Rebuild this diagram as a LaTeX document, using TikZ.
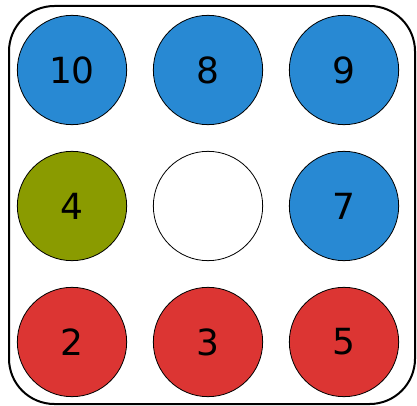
\documentclass[tikz,border=0pt]{standalone}
\usepackage{fontspec}
\setmainfont{DejaVu Sans}
\usepackage{xcolor}
\definecolor{tileblue}{HTML}{2889D3}
\definecolor{tileolive}{HTML}{8A9B00}
\definecolor{tilered}{HTML}{DC3533}
\tikzset{
    tile/.style={circle, draw=black, line width=0.6pt, minimum size=82pt, inner sep=0pt,
        font=\fontsize{27}{30}\selectfont},
}

\begin{document}
\begin{tikzpicture}[x=0.75pt, y=-0.75pt]
    \useasboundingbox (0,0) rectangle (417,406);
    % Frame
    \draw[line width=1.5pt, rounded corners=34pt] (9,6) rectangle (415,404);

    % Top row
    \node[tile, fill=tileblue] (t10) at (72,70) {10};
    \node[tile, fill=tileblue] (t8) at (208,70) {8};
    \node[tile, fill=tileblue] (t9) at (344,70) {9};

    % Middle row
    \node[tile, fill=tileolive] (t4) at (72,206) {4};
    \node[tile, fill=white] (empty) at (208,206) {};
    \node[tile, fill=tileblue] (t7) at (344,206) {7};

    % Bottom row
    \node[tile, fill=tilered] (t2) at (72,342) {2};
    \node[tile, fill=tilered] (t3) at (208,342) {3};
    \node[tile, fill=tilered] (t5) at (344,342) {5};
\end{tikzpicture}
\end{document}
